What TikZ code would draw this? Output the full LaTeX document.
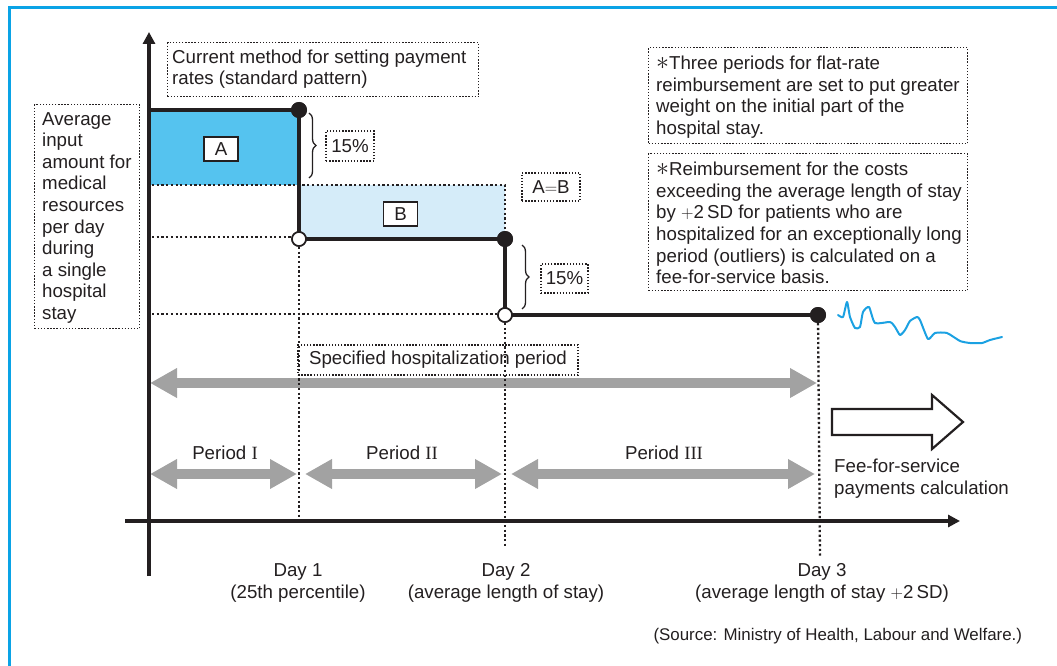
\documentclass[tikz,border=0pt]{standalone}
\usepackage{fontspec}
\setmainfont{Liberation Sans}
\newfontfamily\numeralfont{Liberation Serif}
\usetikzlibrary{arrows.meta,decorations.pathreplacing}
\definecolor{ink}{HTML}{231F20}
\definecolor{frameblue}{HTML}{0AA3E6}
\definecolor{areaA}{HTML}{55C3EF}
\definecolor{areaB}{HTML}{D5ECF9}
\definecolor{arrowgray}{HTML}{A2A2A2}
\definecolor{trend}{HTML}{1BA1E2}
\newcommand{\notemark}{\raisebox{0.5pt}{\scalebox{1.5}{$\ast$}}}
\tikzset{
  basefont/.style={font=\fontsize{18.7}{21.6}\selectfont},
  framerule/.style={draw=frameblue, line width=3pt},
  axis/.style={draw=ink, line width=3.8pt, -{Triangle[width=12pt,length=12pt]}},
  stepline/.style={draw=ink, line width=4.5pt, line join=miter},
  guide/.style={draw=ink, line width=2.3pt, dash pattern=on 2.2pt off 2.5pt},
  notebox/.style={draw=ink, line width=1.4pt, dash pattern=on 1.4pt off 1.7pt, rectangle, inner sep=0pt},
  tagbox/.style={draw=ink, line width=1.2pt, fill=white, inner sep=0pt, minimum width=34pt, minimum height=24pt},
  txt/.style={align=left, inner sep=0pt, anchor=north west},
  fdot/.style={circle, fill=ink, inner sep=0pt, minimum size=16pt},
  odot/.style={circle, draw=ink, fill=white, line width=1.6pt, inner sep=0pt, minimum size=14pt},
  curly/.style={draw=ink, line width=1.3pt, decorate, decoration={brace, amplitude=7pt}},
  grayarrow/.style={draw=arrowgray, line width=9.5pt,
    {Triangle[width=28pt,length=27pt]}-{Triangle[width=28pt,length=27pt]}},
  hollow/.style={draw=ink, line width=2.2pt, fill=white, line join=miter},
  wiggle/.style={draw=trend, line width=2pt, line cap=round, line join=round},
}
\begin{document}
\begin{tikzpicture}[x=1pt, y=-1pt, every node/.style={text=ink, basefont}]
\useasboundingbox (0,0) rectangle (1057,666);

% outer frame (top and left edges)
\draw[framerule] (9,666) -- (9,8) -- (1057,8);

% shaded areas A and B
\fill[areaA] (149,110) rectangle (299,185);
\fill[areaB] (299,185) rectangle (505,239);

% key points of the step function
\coordinate (start) at (149,110);
\node[fdot] (d1) at (299,110) {};
\node[odot] (o1) at (299,239) {};
\node[fdot] (d2) at (505,239) {};
\node[odot] (o2) at (505,315) {};
\node[fdot] (d3) at (818,315) {};

% ends of the guide lines
\coordinate (g1a) at (152,185);
\coordinate (g1b) at (505,185);
\coordinate (g2a) at (152,237);
\coordinate (g2b) at (292,237);
\coordinate (g3a) at (152,314);
\coordinate (g3b) at (498,314);
\coordinate (v1) at (299,521);
\coordinate (v2) at (505,548);
\coordinate (v3) at (820,557);

% gray period arrows
\coordinate (spL) at (150,383);
\coordinate (spR) at (817,383);
\coordinate (p1L) at (150,474);
\coordinate (p1R) at (297,474);
\coordinate (p2L) at (305,474);
\coordinate (p2R) at (502,474);
\coordinate (p3L) at (511,474);
\coordinate (p3R) at (815,474);
\draw[grayarrow] (spL) -- (spR);
\draw[grayarrow] (p1L) -- (p1R);
\draw[grayarrow] (p2L) -- (p2R);
\draw[grayarrow] (p3L) -- (p3R);

% dotted guides
\draw[guide] (g1a) -- (g1b) -- (d2);
\draw[guide] (g2a) -- (g2b);
\draw[guide] (g3a) -- (g3b);
\draw[guide] (o1) -- (v1);
\draw[guide] (o2) -- (v2);
\draw[guide] (d3) -- (v3);

% axes
\draw[axis] (149,576) -- (149,32);
\draw[axis] (125,521) -- (960,521);

% step function
\draw[stepline] (start) -- (d1.center) -- (o1.center) -- (d2.center) -- (o2.center) -- (d3.center);
\node[fdot] at (d1) {};
\node[odot] at (o1) {};
\node[fdot] at (d2) {};
\node[odot] at (o2) {};
\node[fdot] at (d3) {};

% area tags
\node[tagbox] (tagA) at (221,149) {A};
\node[tagbox] (tagB) at (400.5,214) {B};

% 15% drops
\draw[curly] (309,113) -- (309,178);
\draw[curly] (522,245) -- (522,309);
\node[notebox, minimum width=48pt, minimum height=30pt] (pct1) at (350,146) {15\%};
\node[notebox, minimum width=47pt, minimum height=29pt] (pct2) at (564.5,278.5) {15\%};
\node[notebox, minimum width=58pt, minimum height=28pt] (equal) at (551,187) {A$=$B};

% text boxes
\node[notebox, minimum width=311pt, minimum height=54pt, anchor=north west] (methodbox) at (167,42) {};
\node[txt] (method) at (172,49.5) {Current method for setting payment\\rates (standard pattern)};

\node[notebox, minimum width=105pt, minimum height=224pt, anchor=north west] (ylabelbox) at (34,104) {};
\node[txt] (ylabel) at (42,112) {Average\\input\\amount for\\medical\\resources\\per day\\during\\a single\\hospital\\stay};

\node[notebox, minimum width=319pt, minimum height=96pt, anchor=north west] (note1box) at (648,47) {};
\node[txt] (note1) at (656,56) {\notemark Three periods for flat-rate\\reimbursement are set to put greater\\weight on the initial part of the\\hospital stay.};

\node[notebox, minimum width=319pt, minimum height=137pt, anchor=north west] (note2box) at (648,153) {};
\node[txt] (note2) at (656,162) {\notemark Reimbursement for the costs\\exceeding the average length of stay\\by $+$2\,SD for patients who are\\hospitalized for an exceptionally long\\period (outliers) is calculated on a\\fee-for-service basis.};

\node[notebox, minimum width=280pt, minimum height=30pt] (spec) at (438,360) {Specified hospitalization period};

% period labels
\node[anchor=base] (per1) at (225,459) {Period {\numeralfont I}};
\node[anchor=base] (per2) at (402,459) {Period {\numeralfont II}};
\node[anchor=base] (per3) at (664,459) {Period {\numeralfont III}};

% fee-for-service arrow
\draw[hollow] (832,409) -- (932,409) -- (932,395) -- (963,422) -- (932,449) -- (932,435) -- (832,435) -- cycle;
\node[txt] (fee) at (834,459) {Fee-for-service\\payments calculation};

% trend beyond day 3
\draw[wiggle] plot[smooth, tension=0.35] coordinates {
  (838,315) (843,317) (847,302) (850,317) (855,328) (860,327) (863,312)
  (869,307) (875,323) (890,322) (895,327) (900,335) (905,330) (910,321)
  (917,317) (920,320) (928,339) (935,333) (947,333) (960,341) (970,343)
  (982,343) (990,340) (1002,337)};

% day labels
\node[align=center, anchor=north] (day1) at (298,560) {Day 1\\(25th percentile)};
\node[align=center, anchor=north] (day2) at (506,560) {Day 2\\(average length of stay)};
\node[align=center, anchor=north] (day3) at (822,560) {Day 3\\(average length of stay $+$2\,SD)};

% source
\node[anchor=base west, font=\fontsize{16.9}{19}\selectfont] (source) at (650,640) {(Source: Ministry of Health, Labour and Welfare.)};
\end{tikzpicture}
\end{document}
